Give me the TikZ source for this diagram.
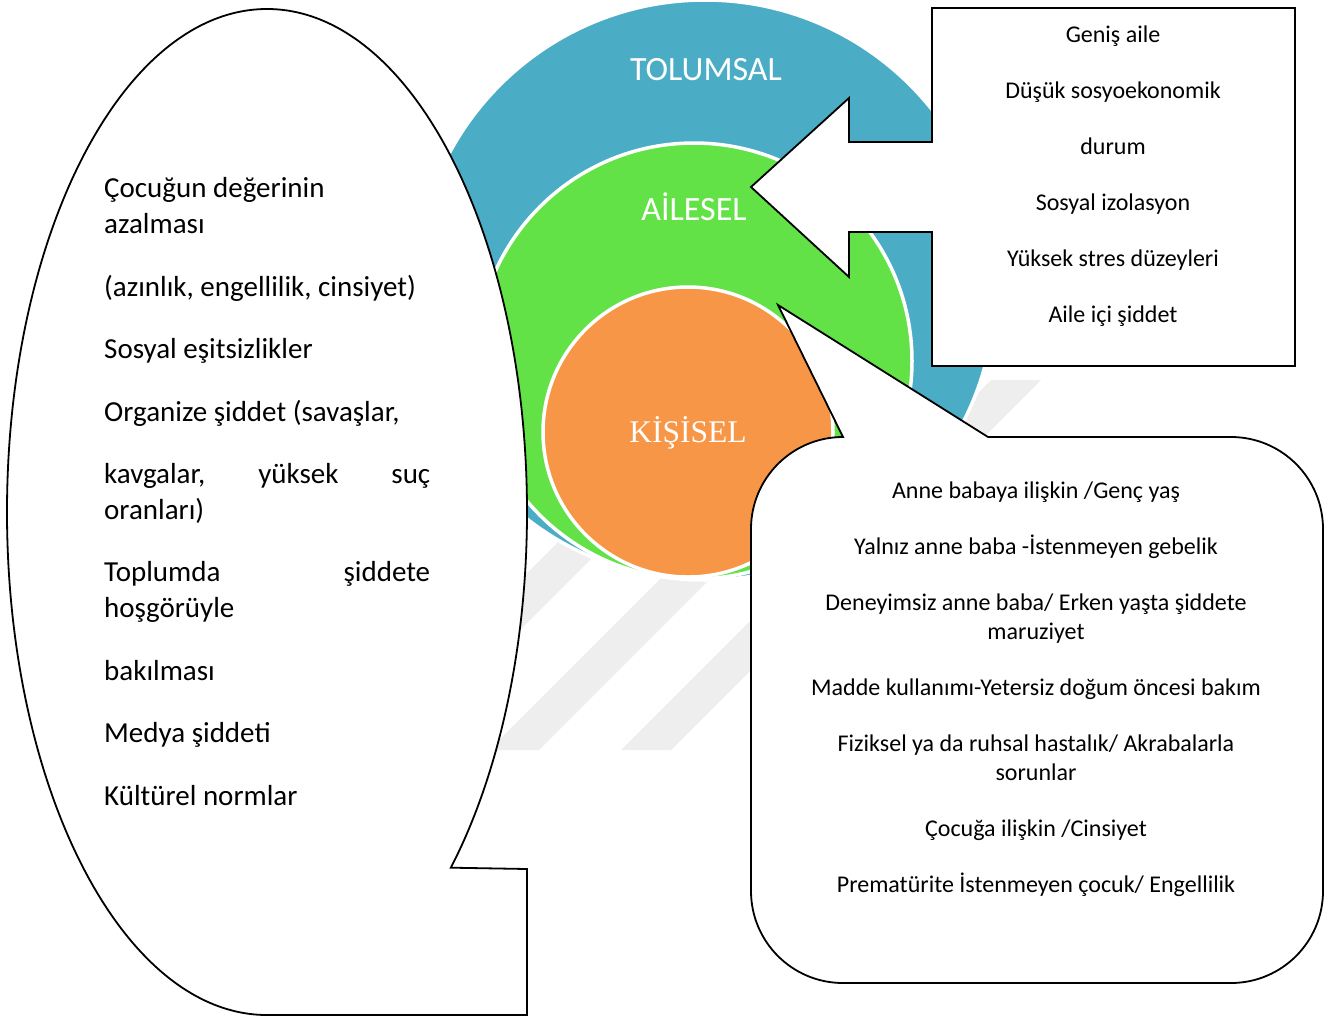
\documentclass[tikz,border=0pt]{standalone}
\usepackage{fontspec}
\setmainfont{Carlito}
\newfontfamily\serifkis{Liberation Serif}
\definecolor{tolblue}{HTML}{4BACC6}
\definecolor{aigreen}{HTML}{62E247}
\definecolor{kiorange}{HTML}{F79646}
\definecolor{wmgray}{HTML}{EEEEEE}
\begin{document}
\begin{tikzpicture}[x=1pt,y=-1pt,
  outl/.style={draw=black, line width=1.8pt, fill=white, line join=miter},
  disc/.style={draw=white, line width=3.5pt},
  rtxt/.style={anchor=base, inner sep=0pt, font=\fontsize{24}{28}\selectfont},
  ltxt/.style={anchor=base west, inner sep=0pt, font=\fontsize{29}{34}\selectfont},
  clabel/.style={anchor=base, inner sep=0pt, text=white, font=\fontsize{34}{40}\selectfont}]
\useasboundingbox (0,0) rectangle (1331,1018);
% faint watermark stripes
\foreach \b in {350,489,621}
  \fill[wmgray] (\b,750) -- (\b+50,750) -- (\b+420,380) -- (\b+370,380) -- cycle;
% nested circles
\path[disc, fill=tolblue] (705,290) circle[radius=290];
\path[disc, fill=aigreen] (694,361) circle[radius=218];
\path[disc, fill=kiorange] (688,432) circle[radius=145];
\node[clabel] (tol) at (706,80) {TOLUMSAL};
\node[clabel] (ail) at (694,220) {AİLESEL};
\node[clabel, font=\serifkis\fontsize{31.5}{36}\selectfont] (kis) at (688,442) {KİŞİSEL};
% left ellipse callout
\draw[outl] (267,1015) arc[start angle=90, end angle=405, x radius=260, y radius=503]
  -- (527,869) -- (527,1015) -- cycle;
% top right arrow callout
\draw[outl] (932,8) -- (1295,8) -- (1295,366) -- (932,366) -- (932,232) -- (849,232)
  -- (849,277) -- (751,187) -- (849,98) -- (849,142) -- (932,142) -- cycle;
% bottom right rounded callout
\draw[outl] (843,437) -- (778,305) -- (988,437) -- (1231,437)
  arc[start angle=270, end angle=360, radius=92] -- (1323,891)
  arc[start angle=0, end angle=90, radius=92] -- (843,983)
  arc[start angle=90, end angle=180, radius=92] -- (751,529)
  arc[start angle=180, end angle=270, radius=92] -- cycle;
% left texts
\node[ltxt] (l1) at (104,197) {Çocuğun değerinin};
\node[ltxt] (l2) at (104,233) {azalması};
\node[ltxt] (l3) at (104,296) {(azınlık, engellilik, cinsiyet)};
\node[ltxt] (l4) at (104,358) {Sosyal eşitsizlikler};
\node[ltxt] (l5) at (104,421) {Organize şiddet (savaşlar,};
\node[ltxt] (l6) at (104,483) {\makebox[326pt][l]{kavgalar,\hfill yüksek\hfill suç}};
\node[ltxt] (l7) at (104,519) {oranları)};
\node[ltxt] (l8) at (104,581) {\makebox[326pt][l]{Toplumda\hfill şiddete}};
\node[ltxt] (l9) at (104,617) {hoşgörüyle};
\node[ltxt] (l10) at (104,680) {bakılması};
\node[ltxt] (l11) at (104,742) {Medya şiddeti};
\node[ltxt] (l12) at (104,805) {Kültürel normlar};
% top right texts
\node[rtxt] (a1) at (1113,42) {Geniş aile};
\node[rtxt] (a2) at (1113,98) {Düşük sosyoekonomik};
\node[rtxt] (a3) at (1113,154) {durum};
\node[rtxt] (a4) at (1113,210) {Sosyal izolasyon};
\node[rtxt] (a5) at (1113,266) {Yüksek stres düzeyleri};
\node[rtxt] (a6) at (1113,322) {Aile içi şiddet};
% bottom right texts
\node[rtxt] (k1) at (1036,498) {Anne babaya ilişkin /Genç yaş};
\node[rtxt] (k2) at (1036,554) {Yalnız anne baba -İstenmeyen gebelik};
\node[rtxt] (k3) at (1036,610) {Deneyimsiz anne baba/ Erken yaşta şiddete};
\node[rtxt] (k4) at (1036,639) {maruziyet};
\node[rtxt] (k5) at (1036,695) {Madde kullanımı-Yetersiz doğum öncesi bakım};
\node[rtxt] (k6) at (1036,751) {Fiziksel ya da ruhsal hastalık/ Akrabalarla};
\node[rtxt] (k7) at (1036,780) {sorunlar};
\node[rtxt] (k8) at (1036,836) {Çocuğa ilişkin /Cinsiyet};
\node[rtxt] (k9) at (1036,892) {Prematürite İstenmeyen çocuk/ Engellilik};
\end{tikzpicture}
\end{document}
